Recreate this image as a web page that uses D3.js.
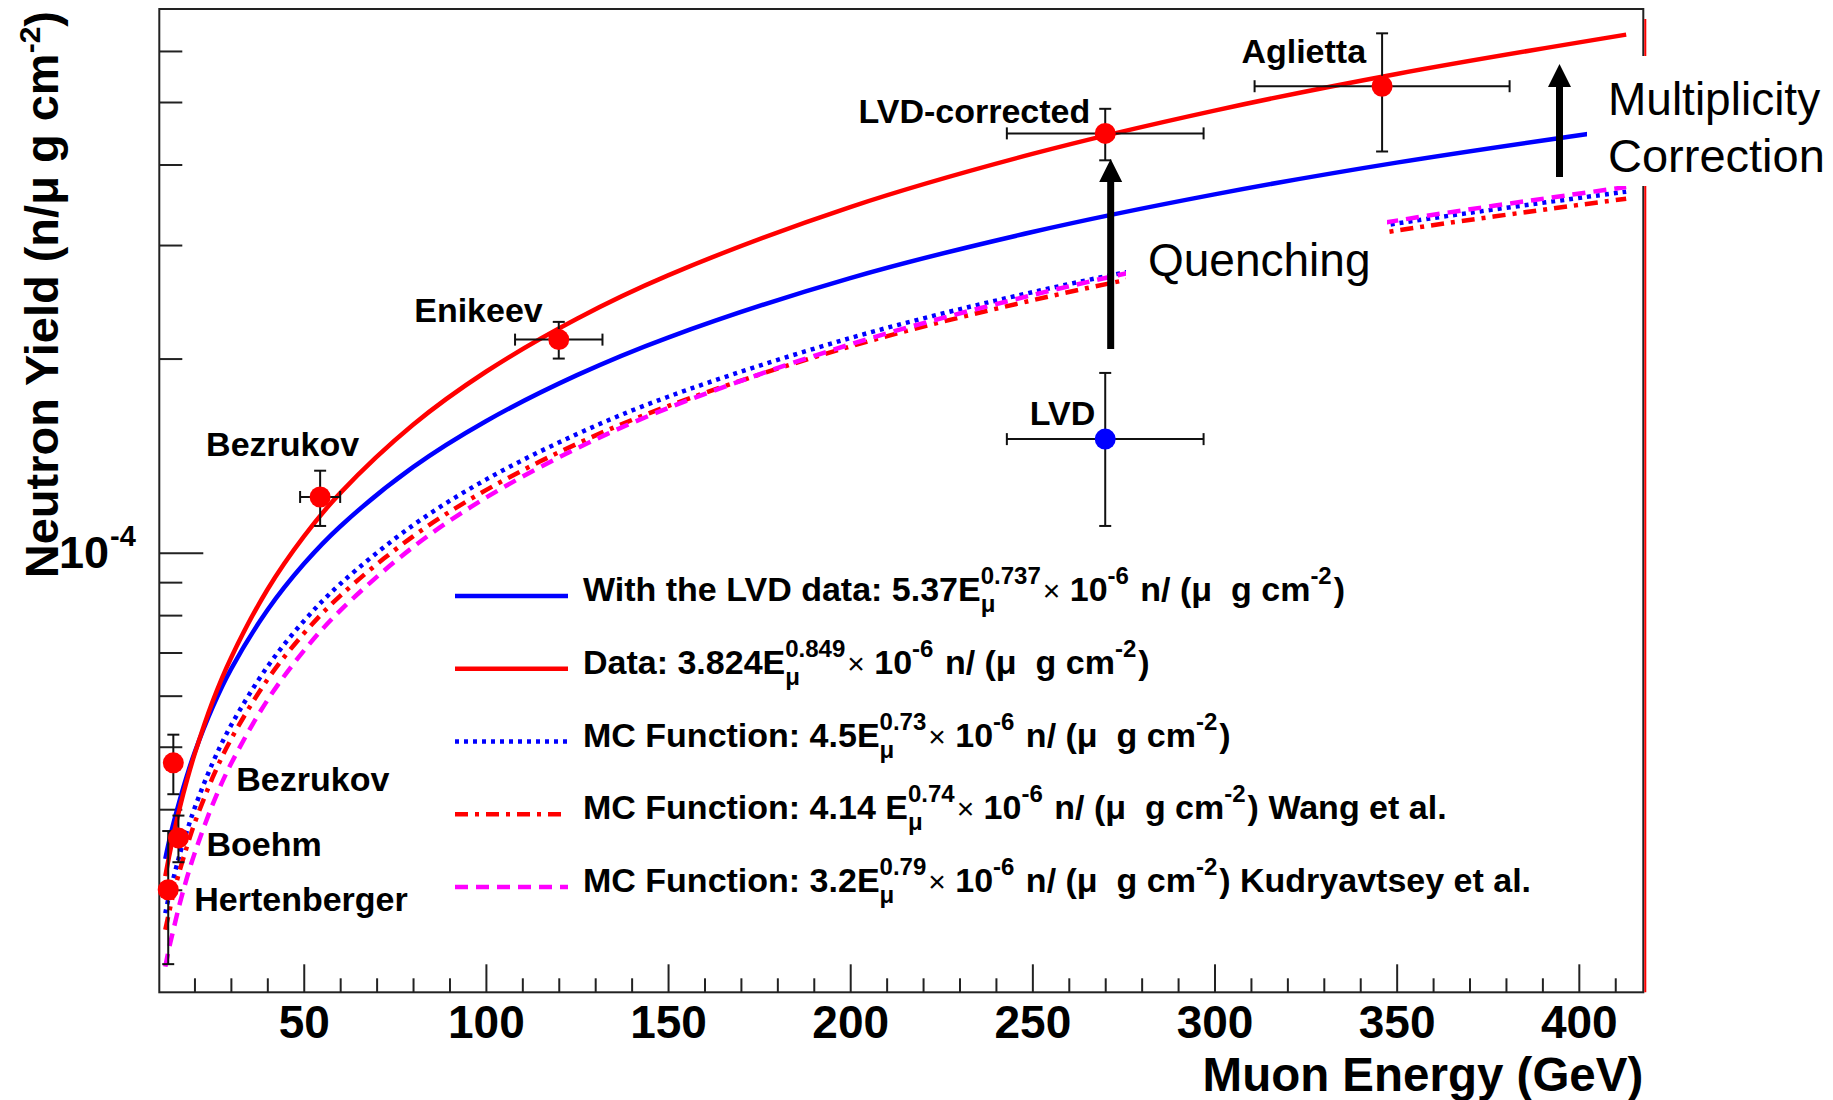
<!DOCTYPE html>
<html>
<head>
<meta charset="utf-8">
<script src="https://cdn.jsdelivr.net/npm/d3@7"></script>
<style>
  html, body { margin: 0; padding: 0; background: #fff; }
  svg { display: block; }
  text { font-family: "Liberation Sans", Arial, Helvetica, sans-serif; fill: #000; white-space: pre; }
</style>
</head>
<body>
<svg id="chart" width="1833" height="1100"></svg>
<script>
// ---- data, yields in units of 1e-5 n/(mu g cm^-2) ----
const yieldUnit = 1e-5;
const energyGrid = [12, 13, 14, 16, 18, 20, 25, 30, 40, 50, 60, 80, 100, 125, 150, 200, 250, 300, 350, 413];
const fitWithLVD = [3.35, 3.56, 3.76, 4.14, 4.52, 4.89, 5.76, 6.59, 8.14, 9.60, 10.98, 13.57, 15.99, 18.85, 21.56, 26.66, 31.43, 35.95, 40.27, 45.50];
const fitData = [3.15, 3.37, 3.59, 4.03, 4.45, 4.86, 5.88, 6.86, 8.76, 10.59, 12.37, 15.79, 19.08, 23.06, 26.92, 34.36, 41.54, 48.49, 55.27, 63.61];
const mcFunction = [2.76, 2.93, 3.09, 3.41, 3.71, 4.01, 4.72, 5.39, 6.65, 7.83, 8.94, 11.03, 12.98, 15.27, 17.45, 21.52, 25.35, 28.95, 32.40, 36.30];
const mcWang = [2.60, 2.76, 2.92, 3.22, 3.51, 3.80, 4.48, 5.13, 6.35, 7.49, 8.57, 10.60, 12.50, 14.75, 16.88, 20.88, 24.63, 28.19, 31.59, 35.40];
const mcKudryavtsev = [2.28, 2.43, 2.57, 2.86, 3.14, 3.41, 4.07, 4.70, 5.90, 7.04, 8.13, 10.20, 12.17, 14.51, 16.76, 21.04, 25.09, 28.98, 32.73, 36.90];

const expNames = ["Hertenberger", "Boehm", "Bezrukov", "Bezrukov", "Enikeev", "LVD-corrected", "Aglietta"];
const expEnergy = [12.8, 15.6, 14.2, 54.5, 120, 270, 346];
const expEnergyErr = [0, 2, 0, 5.5, 12, 27, 35];
const expYield = [3.0, 3.61, 4.72, 12.2, 21.4, 44.7, 52.9];
const expYieldErr = [0.7, 0.3, 0.5, 1.2, 1.4, 4.1, 11.0];

const lvdName = ["LVD"];
const lvdEnergy = [270];
const lvdEnergyErr = [27];
const lvdYield = [15.0];
const lvdYieldErr = [4.0];

const xMajorTicks = [50, 100, 150, 200, 250, 300, 350, 400];
const xMinorTicks = [20, 30, 40, 60, 70, 80, 90, 110, 120, 130, 140, 160, 170, 180, 190, 210, 220, 230, 240,
  260, 270, 280, 290, 310, 320, 330, 340, 360, 370, 380, 390, 410];
const yMajorTicks = [1e-4];
const yMinorTicks = [3e-5, 4e-5, 5e-5, 6e-5, 7e-5, 8e-5, 9e-5, 2e-4, 3e-4, 4e-4, 5e-4, 6e-4];

// legend entries: rich text pieces
const tail = [{ t: "×", w: "normal" }, { t: " 10" }, { sup: "-6" }, { t: " n/ (μ  g cm" }, { sup: "-2" }, { t: ")" }];
const legendItems = [
  { color: "#0000ff", dash: null, parts: [{ t: "With the LVD data: 5.37E" }, { sub: "μ", sup: "0.737" }, ...tail] },
  { color: "#ff0000", dash: null, parts: [{ t: "Data: 3.824E" }, { sub: "μ", sup: "0.849" }, ...tail] },
  { color: "#0000ff", dash: "4,5", parts: [{ t: "MC Function: 4.5E" }, { sub: "μ", sup: "0.73" }, ...tail] },
  { color: "#ff0000", dash: "13,7,4,7", parts: [{ t: "MC Function: 4.14 E" }, { sub: "μ", sup: "0.74" }, ...tail, { t: " Wang et al." }] },
  { color: "#ff00ff", dash: "13,8", parts: [{ t: "MC Function: 3.2E" }, { sub: "μ", sup: "0.79" }, ...tail, { t: " Kudryavtsey et al." }] },
];

// ---- layout ----
const frame = { left: 159.3, right: 1643.3, top: 9, bottom: 992.3 };
const svg = d3.select("#chart");

const x = d3.scaleLinear().domain([10.35, 417.7]).range([frame.left, frame.right]);
const y = d3.scaleLog().domain([2.08e-5, 6.97e-4]).range([frame.bottom, frame.top]);

// axes
function styleAxis(g) {
  g.attr("color", "#222");
  g.selectAll(".tick line").attr("stroke-width", 2);
  g.select(".domain").remove();
}

svg.append("g")
  .attr("transform", `translate(0,${frame.bottom})`)
  .call(d3.axisBottom(x).tickValues(xMinorTicks).tickSize(-14).tickFormat(""))
  .call(styleAxis);

svg.append("g")
  .attr("transform", `translate(0,${frame.bottom})`)
  .call(d3.axisBottom(x).tickValues(xMajorTicks).tickSize(-28).tickPadding(13).tickFormat(d3.format("d")))
  .call(styleAxis)
  .call(g => g.selectAll(".tick text")
    .attr("font-size", 46).attr("font-weight", "bold")
    .attr("font-family", "Liberation Sans, Arial, sans-serif").attr("fill", "#000"));

svg.append("g")
  .attr("transform", `translate(${frame.left},0)`)
  .call(d3.axisLeft(y).tickValues(yMinorTicks).tickSize(-23).tickFormat(""))
  .call(styleAxis);

svg.append("g")
  .attr("transform", `translate(${frame.left},0)`)
  .call(d3.axisLeft(y).tickValues(yMajorTicks).tickSize(-44).tickFormat(""))
  .call(styleAxis);

// y tick label 10^-4
yMajorTicks.forEach(v => {
  const ty = y(v);
  svg.append("text").attr("x", 109).attr("y", ty + 15)
    .attr("text-anchor", "end").attr("font-size", 45).attr("font-weight", "bold").text("10");
  svg.append("text").attr("x", 110).attr("y", ty - 7)
    .attr("font-size", 29).attr("font-weight", "bold").text("-4");
});

// frame
svg.append("rect")
  .attr("x", frame.left).attr("y", frame.top)
  .attr("width", frame.right - frame.left).attr("height", frame.bottom - frame.top)
  .attr("fill", "none").attr("stroke", "#222").attr("stroke-width", 2);
svg.append("line")
  .attr("x1", frame.right + 2).attr("x2", frame.right + 2)
  .attr("y1", frame.top + 10).attr("y2", frame.bottom)
  .attr("stroke", "#ff0000").attr("stroke-width", 2);

// fitted / MC curves
const curves = [
  { values: mcFunction, color: "#0000ff", dash: "4,5" },
  { values: mcWang, color: "#ff0000", dash: "13,7,4,7" },
  { values: mcKudryavtsev, color: "#ff00ff", dash: "13,8" },
  { values: fitWithLVD, color: "#0000ff", dash: null },
  { values: fitData, color: "#ff0000", dash: null },
];

const line = d3.line()
  .x(d => x(d[0]))
  .y(d => y(d[1] * yieldUnit))
  .curve(d3.curveCatmullRom.alpha(0.5));

curves.forEach(c => {
  svg.append("path")
    .attr("d", line(energyGrid.map((e, i) => [e, c.values[i]])))
    .attr("fill", "none")
    .attr("stroke", c.color)
    .attr("stroke-width", 4.5)
    .attr("stroke-dasharray", c.dash);
});

// data points with error bars
function drawPoints(names, es, eErr, ys, yErr, color) {
  const g = svg.append("g");
  names.forEach((n, i) => {
    const px = x(es[i]), py = y(ys[i] * yieldUnit);
    const yTop = y((ys[i] + yErr[i]) * yieldUnit);
    const yBot = y((ys[i] - yErr[i]) * yieldUnit);
    const eb = g.append("g").attr("stroke", "#111").attr("stroke-width", 2);
    eb.append("line").attr("x1", px).attr("x2", px).attr("y1", yTop).attr("y2", yBot);
    eb.append("line").attr("x1", px - 6).attr("x2", px + 6).attr("y1", yTop).attr("y2", yTop);
    eb.append("line").attr("x1", px - 6).attr("x2", px + 6).attr("y1", yBot).attr("y2", yBot);
    if (eErr[i] > 0) {
      const xl = x(es[i] - eErr[i]), xr = x(es[i] + eErr[i]);
      eb.append("line").attr("x1", xl).attr("x2", xr).attr("y1", py).attr("y2", py);
      eb.append("line").attr("x1", xl).attr("x2", xl).attr("y1", py - 6).attr("y2", py + 6);
      eb.append("line").attr("x1", xr).attr("x2", xr).attr("y1", py - 6).attr("y2", py + 6);
    }
  });
  names.forEach((n, i) => {
    g.append("circle")
      .attr("cx", x(es[i])).attr("cy", y(ys[i] * yieldUnit))
      .attr("r", 10.5).attr("fill", color);
  });
}
drawPoints(expNames, expEnergy, expEnergyErr, expYield, expYieldErr, "#ff0000");
drawPoints(lvdName, lvdEnergy, lvdEnergyErr, lvdYield, lvdYieldErr, "#0000ff");

// point labels, offsets relative to the marker
const labelOffsets = {
  "Hertenberger": [26, 21, "start"],
  "Boehm": [28, 18, "start"],
  "Bezrukov-0": [63, 28, "start"],
  "Bezrukov-1": [39, -41, "end"],
  "Enikeev": [-16, -18, "end"],
  "LVD-corrected": [-15, -10, "end"],
  "Aglietta": [-16, -23, "end"],
  "LVD": [-10, -14, "end"],
};
let bez = 0;
function label(name, e, v) {
  const key = name === "Bezrukov" ? `Bezrukov-${bez++}` : name;
  const [dx, dy, anchor] = labelOffsets[key];
  svg.append("text")
    .attr("x", x(e) + dx).attr("y", y(v * yieldUnit) + dy)
    .attr("text-anchor", anchor)
    .attr("font-size", 34).attr("font-weight", "bold")
    .text(name);
}
expNames.forEach((n, i) => label(n, expEnergy[i], expYield[i]));
lvdName.forEach((n, i) => label(n, lvdEnergy[i], lvdYield[i]));

// white text boxes covering the curves
svg.append("rect").attr("x", 1126).attr("y", 218).attr("width", 261).attr("height", 80).attr("fill", "#fff");
svg.append("rect").attr("x", 1587).attr("y", 56).attr("width", 246).attr("height", 130).attr("fill", "#fff");

svg.append("text").attr("x", 1148).attr("y", 276).attr("font-size", 46).text("Quenching");
svg.append("text").attr("x", 1608).attr("y", 115).attr("font-size", 46).text("Multiplicity");
svg.append("text").attr("x", 1608).attr("y", 172).attr("font-size", 47).text("Correction");

// arrows
function arrow(ax, yTail, yTip) {
  const g = svg.append("g");
  g.append("line").attr("x1", ax).attr("x2", ax).attr("y1", yTail).attr("y2", yTip + 20)
    .attr("stroke", "#000").attr("stroke-width", 7);
  g.append("path")
    .attr("d", `M${ax},${yTip} L${ax - 11.5},${yTip + 23} L${ax + 11.5},${yTip + 23} Z`)
    .attr("fill", "#000");
}
arrow(x(271.5), 349, 159);
arrow(x(394.7), 177, 64);

// axis titles
svg.append("text")
  .attr("x", frame.right).attr("y", 1091)
  .attr("text-anchor", "end").attr("font-size", 47.5).attr("font-weight", "bold")
  .text("Muon Energy (GeV)");

const yt = svg.append("text")
  .attr("transform", "translate(58,11) rotate(-90)")
  .attr("text-anchor", "end").attr("font-size", 47).attr("font-weight", "bold");
yt.append("tspan").text("Neutron Yield (n/μ g cm");
yt.append("tspan").attr("dy", -18).attr("font-size", 30).text("-2");
yt.append("tspan").attr("dy", 18).text(")");

// legend
function richText(g, x0, y0, parts) {
  let cx = x0;
  parts.forEach(p => {
    if (p.t !== undefined) {
      const t = g.append("text").attr("x", cx).attr("y", y0)
        .attr("font-size", p.w === "normal" ? 30 : 34)
        .attr("font-weight", p.w || "bold").text(p.t);
      cx += t.node().getComputedTextLength();
    } else {
      let w = 0;
      if (p.sup) {
        const t = g.append("text").attr("x", cx).attr("y", y0 - 17)
          .attr("font-size", 24).attr("font-weight", "bold").text(p.sup);
        w = Math.max(w, t.node().getComputedTextLength());
      }
      if (p.sub) {
        const t = g.append("text").attr("x", cx).attr("y", y0 + 11)
          .attr("font-size", 24).attr("font-weight", "bold").text(p.sub);
        w = Math.max(w, t.node().getComputedTextLength());
      }
      cx += w + 2;
    }
  });
}

const legendTop = 596, legendStep = 72.75;
legendItems.forEach((item, i) => {
  const ly = legendTop + i * legendStep;
  const g = svg.append("g");
  g.append("line")
    .attr("x1", 455).attr("x2", 568).attr("y1", ly).attr("y2", ly)
    .attr("stroke", item.color).attr("stroke-width", 4.5)
    .attr("stroke-dasharray", item.dash);
  richText(g, 583, ly + 5, item.parts);
});
</script>
</body>
</html>
